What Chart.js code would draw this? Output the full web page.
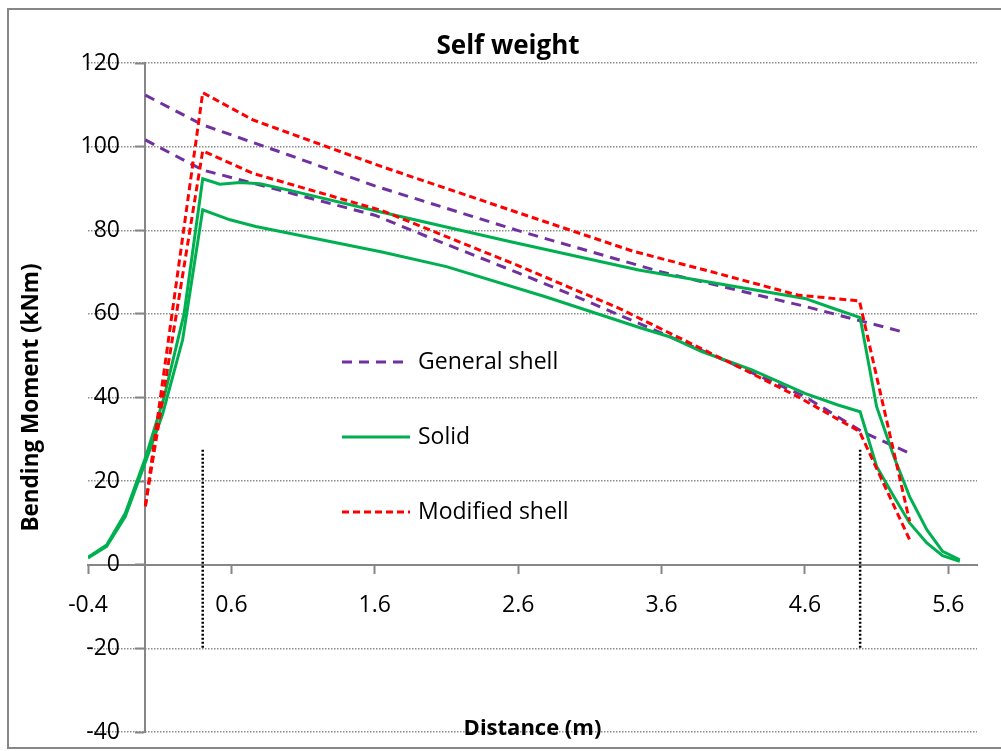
<!DOCTYPE html>
<html>
<head>
<meta charset="utf-8">
<title>Self weight</title>
<script src="https://cdn.jsdelivr.net/npm/chart.js@4.4.1/dist/chart.umd.min.js"></script>
<style>
  html, body { margin: 0; padding: 0; background: #fff; }
  #wrap { width: 1001px; height: 751px; }
</style>
</head>
<body>
<div id="wrap"><canvas id="chartCanvas" width="1001" height="751"></canvas></div>
<script>
// tick labels
var xTicks = [-0.4, 0.6, 1.6, 2.6, 3.6, 4.6, 5.6];

// General shell (two curves)
var generalTopX = [0, 0.4, 1.0, 1.6, 2.6, 3.6, 4.6, 5.27];
var generalTopY = [112.3, 105.2, 98.0, 90.6, 79.9, 70.0, 61.8, 55.8];
var generalLowX = [0, 0.4, 1.0, 1.6, 2.0, 2.6, 3.0, 3.6, 4.0, 4.6, 5.0, 5.34];
var generalLowY = [101.6, 94.4, 89.0, 83.6, 78.0, 69.8, 64.2, 55.4, 49.5, 40.2, 31.8, 26.5];

// Solid (two curves)
var solidTopX = [-0.4, -0.27, -0.14, 0, 0.13, 0.27, 0.4, 0.52, 0.66, 0.8, 1.0, 1.65, 2.54, 3.44, 4.6, 4.79, 4.985, 5.10, 5.22, 5.33, 5.45, 5.56, 5.68];
var solidTopY = [1.8, 4.7, 12.3, 25.5, 40, 60, 92.3, 91.0, 91.4, 91.1, 89.6, 84.3, 77.3, 70.5, 63.7, 61.4, 59.1, 37.8, 25.9, 16.3, 8.4, 3.2, 1.2];
var solidLowX = [-0.4, -0.27, -0.14, 0, 0.12, 0.26, 0.4, 0.59, 0.77, 1.65, 2.1, 2.79, 3.44, 3.65, 3.88, 4.23, 4.6, 4.83, 4.985, 5.10, 5.22, 5.33, 5.45, 5.56, 5.68];
var solidLowY = [1.6, 4.4, 11.5, 24.5, 36, 53.8, 84.9, 82.5, 80.9, 74.8, 71.3, 64.1, 56.8, 54.6, 51.0, 46.6, 41.0, 38.2, 36.6, 23.5, 16.3, 10.0, 5.2, 2.2, 0.8];

// Modified shell (two curves)
var modTopX = [0, 0.4, 0.75, 1.65, 2.6, 3.4, 4.0, 4.55, 4.98, 5.33];
var modTopY = [14.0, 112.9, 106.4, 95.2, 84.2, 75.0, 69.6, 64.5, 63.1, 10.4];
var modLowX = [0, 0.4, 0.75, 1.65, 2.56, 3.3, 4.18, 4.55, 4.98, 5.33];
var modLowY = [14.0, 99.0, 93.6, 84.7, 72.1, 61.4, 46.6, 40.2, 31.9, 6.0];

// dotted marker lines
var markerX = [0.4, 4.985];
var markerY = [27.5, -20];

var legendNames = ['General shell', 'Solid', 'Modified shell'];
var purple = '#7030A0', green = '#00B050', red = '#FF0000';
var FONT = '"Open Sans", sans-serif';

function pts(xs, ys) {
  return xs.map(function (x, i) { return { x: x, y: ys[i] }; });
}

function curve(xs, ys, color, dash) {
  return {
    data: pts(xs, ys),
    borderColor: color,
    borderWidth: 3,
    borderDash: dash,
    borderCapStyle: 'butt',
    pointRadius: 0,
    tension: 0,
    fill: false
  };
}

var datasets = [
  curve(modTopX, modTopY, red, [7, 4]),
  curve(modLowX, modLowY, red, [7, 4]),
  curve(solidTopX, solidTopY, green, []),
  curve(solidLowX, solidLowY, green, []),
  curve(generalTopX, generalTopY, purple, [10, 7]),
  curve(generalLowX, generalLowY, purple, [10, 7])
];
markerX.forEach(function (mx) {
  var d = curve([mx, mx], markerY, '#000', [2, 2]);
  d.borderWidth = 2.5;
  datasets.push(d);
});

var decor = {
  id: 'decor',
  afterDraw: function (chart) {
    var ctx = chart.ctx;
    var a = chart.chartArea;
    ctx.save();
    // outer frame
    ctx.strokeStyle = '#868686';
    ctx.lineWidth = 2;
    ctx.strokeRect(8, 9, 1010, 739);
    // title
    ctx.fillStyle = '#000';
    ctx.textAlign = 'center';
    ctx.textBaseline = 'middle';
    ctx.font = 'bold 26px ' + FONT;
    ctx.fillText('Self weight', 508, 47);
    // axis titles
    ctx.font = 'bold 22px ' + FONT;
    ctx.fillText('Distance (m)', (a.left + a.right) / 2, 729);
    ctx.save();
    ctx.translate(32, (a.top + a.bottom) / 2);
    ctx.rotate(-Math.PI / 2);
    ctx.font = 'bold 22.5px ' + FONT;
    ctx.fillText('Bending Moment (kNm)', 0, 0);
    ctx.restore();
    // legend
    var styles = [[purple, [10, 7]], [green, []], [red, [7, 4]]];
    var rows = [362, 437, 512];
    ctx.font = '23px ' + FONT;
    ctx.textAlign = 'left';
    legendNames.forEach(function (name, i) {
      ctx.beginPath();
      ctx.strokeStyle = styles[i][0];
      ctx.lineWidth = 3;
      ctx.setLineDash(styles[i][1]);
      ctx.moveTo(342, rows[i]);
      ctx.lineTo(410, rows[i]);
      ctx.stroke();
      ctx.setLineDash([]);
      ctx.fillStyle = '#000';
      ctx.fillText(name, 418, rows[i]);
    });
    ctx.restore();
  }
};

var ctx = document.getElementById('chartCanvas').getContext('2d');
var chart = new Chart(ctx, {
  type: 'line',
  data: { datasets: datasets },
  options: {
    responsive: false,
    animation: false,
    events: [],
    layout: { padding: { left: 88, right: 24, top: 63, bottom: 19 } },
    plugins: {
      legend: { display: false },
      tooltip: { enabled: false }
    },
    scales: {
      x: {
        type: 'linear',
        min: -0.4,
        max: 5.8,
        position: { y: 0 },
        afterBuildTicks: function (axis) {
          axis.ticks = xTicks.map(function (v) { return { value: v }; });
        },
        grid: { drawOnChartArea: false, drawTicks: true, tickLength: 8, tickColor: '#868686', tickWidth: 2 },
        border: { display: true, color: '#868686', width: 2 },
        ticks: {
          autoSkip: false,
          maxRotation: 0,
          padding: 19,
          color: '#000',
          font: { family: FONT, size: 23 },
          callback: function (v) { return String(Math.round(v * 10) / 10); }
        }
      },
      // labels + dotted gridlines
      y: {
        type: 'linear',
        axis: 'y',
        min: -40,
        max: 120,
        position: { x: -0.177 },
        grid: { color: '#8c8c8c', lineWidth: 1.5, drawTicks: false },
        border: { display: false, dash: [1.5, 1.5] },
        ticks: {
          stepSize: 20,
          color: '#000',
          font: { family: FONT, size: 23 }
        }
      },
      // axis line with tick marks at x = 0
      yAxis: {
        type: 'linear',
        axis: 'y',
        min: -40,
        max: 120,
        position: { x: 0 },
        grid: { drawOnChartArea: false, drawTicks: true, tickLength: 9, tickColor: '#868686', tickWidth: 2 },
        border: { display: true, color: '#868686', width: 2 },
        ticks: { stepSize: 20, display: false }
      }
    }
  },
  plugins: [decor]
});
</script>
</body>
</html>
